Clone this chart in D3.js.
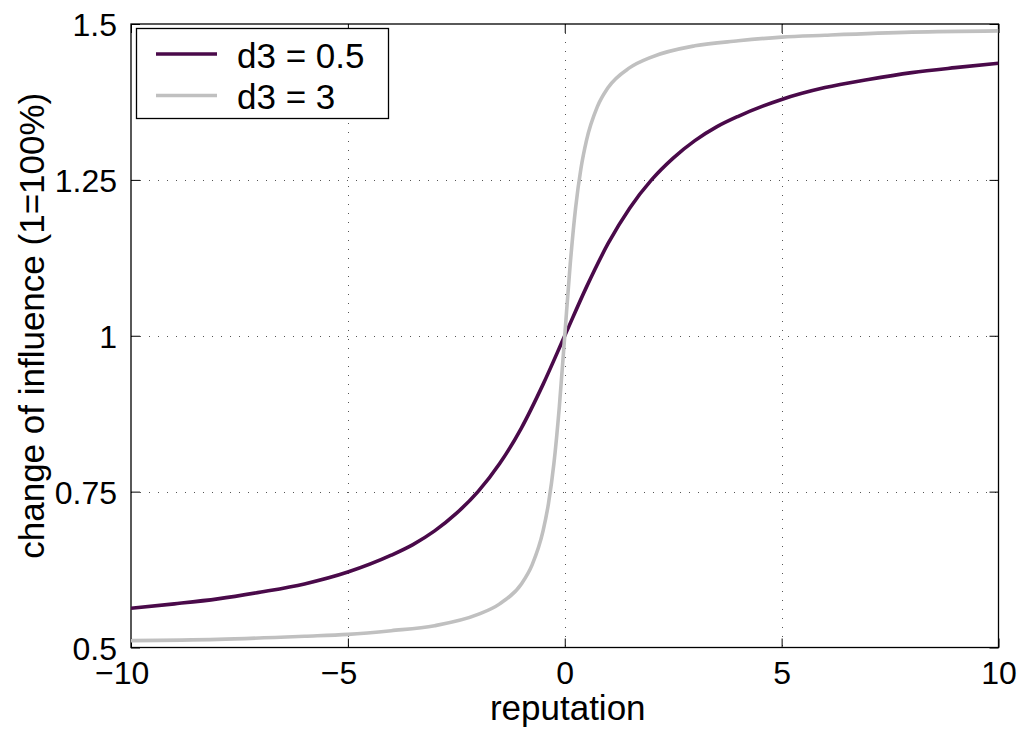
<!DOCTYPE html>
<html>
<head>
<meta charset="utf-8">
<script src="https://cdn.jsdelivr.net/npm/d3@7"></script>
<style>
  html, body { margin: 0; padding: 0; background: #fff; }
  svg { display: block; }
  text { font-family: "Liberation Sans", Arial, Helvetica, sans-serif; fill: #000; }
</style>
</head>
<body>
<svg id="chart" width="1024" height="737"></svg>
<script>
// ---- data ----
const xTicks = [-10, -5, 0, 5, 10];
const yTicks = [0.5, 0.75, 1, 1.25, 1.5];
const seriesNames = ["d3 = 0.5", "d3 = 3"];
const seriesColors = ["#4a0a4a", "#c0c0c0"];

const xA = [-10, -9, -8, -7, -6, -5, -4, -3.5, -3, -2.5, -2, -1.5, -1, -0.5, 0,
            0.5, 1, 1.5, 2, 2.5, 3, 3.5, 4, 5, 6, 7, 8, 9, 10];
const yA = [0.563, 0.570, 0.578, 0.589, 0.602, 0.621, 0.648, 0.665, 0.687, 0.715, 0.750, 0.795, 0.852, 0.922, 1.000,
            1.078, 1.148, 1.205, 1.250, 1.285, 1.313, 1.335, 1.352, 1.379, 1.398, 1.411, 1.422, 1.430, 1.437];

const xB = [-10, -8, -6, -5, -4, -3, -2, -1.5, -1, -0.75, -0.5, -0.375, -0.25, -0.125, 0,
            0.125, 0.25, 0.375, 0.5, 0.75, 1, 1.5, 2, 3, 4, 5, 6, 8, 10];
const yB = [0.511, 0.513, 0.518, 0.521, 0.527, 0.535, 0.553, 0.570, 0.602, 0.633, 0.687, 0.731, 0.795, 0.886, 1.000,
            1.114, 1.205, 1.269, 1.313, 1.367, 1.398, 1.430, 1.447, 1.465, 1.473, 1.479, 1.482, 1.487, 1.489];

const xLabel = "reputation";
const yLabel = "change of influence (1=100%)";

// ---- layout ----
const svg = d3.select("#chart");
const L = 131, R = 998.5, T = 24, B = 647.5;
const FS_TICK = 32;
const FS = 35;

const x = d3.scaleLinear().domain([-10, 10]).range([L, R]);
const y = d3.scaleLinear().domain([0.5, 1.5]).range([B, T]);

const fmt = v => (v < 0 ? "\u2212" + String(Math.abs(v)) : String(v));

// grid
const grid = svg.append("g").attr("stroke", "#555").attr("stroke-width", 1)
  .attr("stroke-dasharray", "1,8");
grid.selectAll("line.gx").data(xTicks.slice(1, -1)).join("line")
  .attr("x1", d => Math.round(x(d)) + 0.5).attr("x2", d => Math.round(x(d)) + 0.5)
  .attr("y1", T).attr("y2", B);
grid.selectAll("line.gy").data(yTicks.slice(1, -1)).join("line")
  .attr("y1", d => Math.round(y(d)) + 0.5).attr("y2", d => Math.round(y(d)) + 0.5)
  .attr("x1", L).attr("x2", R);

// axes (ticks inward, on all four sides)
const tk = 9;
const axB = svg.append("g").attr("transform", `translate(0,${B})`)
  .call(d3.axisBottom(x).tickValues(xTicks).tickSize(-tk).tickPadding(13).tickFormat(fmt));
const axT = svg.append("g").attr("transform", `translate(0,${T})`)
  .call(d3.axisTop(x).tickValues(xTicks).tickSize(-tk).tickFormat(""));
const axL = svg.append("g").attr("transform", `translate(${L},0)`)
  .call(d3.axisLeft(y).tickValues(yTicks).tickSize(-tk).tickPadding(14).tickFormat(d => String(d)));
const axRt = svg.append("g").attr("transform", `translate(${R},0)`)
  .call(d3.axisRight(y).tickValues(yTicks).tickSize(-tk).tickFormat(""));
[axB, axT, axL, axRt].forEach(a => {
  a.select(".domain").remove();
  a.selectAll(".tick line").attr("stroke", "#000").attr("stroke-width", 1);
  a.selectAll("text").attr("font-size", FS_TICK).attr("font-family", "Liberation Sans, Arial, sans-serif").attr("fill", "#000");
});
axL.selectAll(".tick text").attr("dy", "0.36em");
axB.selectAll(".tick text").attr("dy", "0.74em");
// MATLAB-style: center the digits, minus sign hangs to the left
axB.selectAll(".tick text").each(function(d) {
  if (d < 0) {
    const mw = this.getSubStringLength(0, 1);
    d3.select(this).attr("dx", -mw / 2);
  }
});

// plot box
svg.append("rect").attr("x", L).attr("y", T).attr("width", R - L).attr("height", B - T)
  .attr("fill", "none").attr("stroke", "#000").attr("stroke-width", 1.3);

// clip
svg.append("clipPath").attr("id", "clip").append("rect")
  .attr("x", L).attr("y", T - 2).attr("width", R - L).attr("height", B - T + 4);

const line = d3.line().x(d => x(d[0])).y(d => y(d[1])).curve(d3.curveMonotoneX);
const series = [d3.zip(xA, yA), d3.zip(xB, yB)];
svg.append("g").attr("clip-path", "url(#clip)")
  .selectAll("path").data(series).join("path")
  .attr("d", line).attr("fill", "none")
  .attr("stroke", (d, i) => seriesColors[i]).attr("stroke-width", 3.6)
  .attr("stroke-linejoin", "round");

// axis labels
svg.append("text").attr("x", (L + R) / 2 + 3).attr("y", 720).attr("text-anchor", "middle")
  .attr("font-size", FS).text(xLabel);
svg.append("text").attr("transform", `translate(44,${(T + B) / 2 - 10}) rotate(-90)`)
  .attr("text-anchor", "middle").attr("font-size", FS).text(yLabel);

// legend
const lg = svg.append("g");
lg.append("rect").attr("x", 136.5).attr("y", 28.5).attr("width", 252).attr("height", 90)
  .attr("fill", "#fff").attr("stroke", "#000").attr("stroke-width", 1.3);
const rows = lg.selectAll("g.row").data(seriesNames).join("g")
  .attr("transform", (d, i) => `translate(0,${54 + i * 41.5})`);
rows.append("line").attr("x1", 156).attr("x2", 217).attr("y1", 0).attr("y2", 0)
  .attr("stroke", (d, i) => seriesColors[i]).attr("stroke-width", 3.6);
rows.append("text").attr("x", 237).attr("y", 0).attr("dy", 13.5)
  .attr("font-size", FS).text(d => d);
</script>
</body>
</html>
